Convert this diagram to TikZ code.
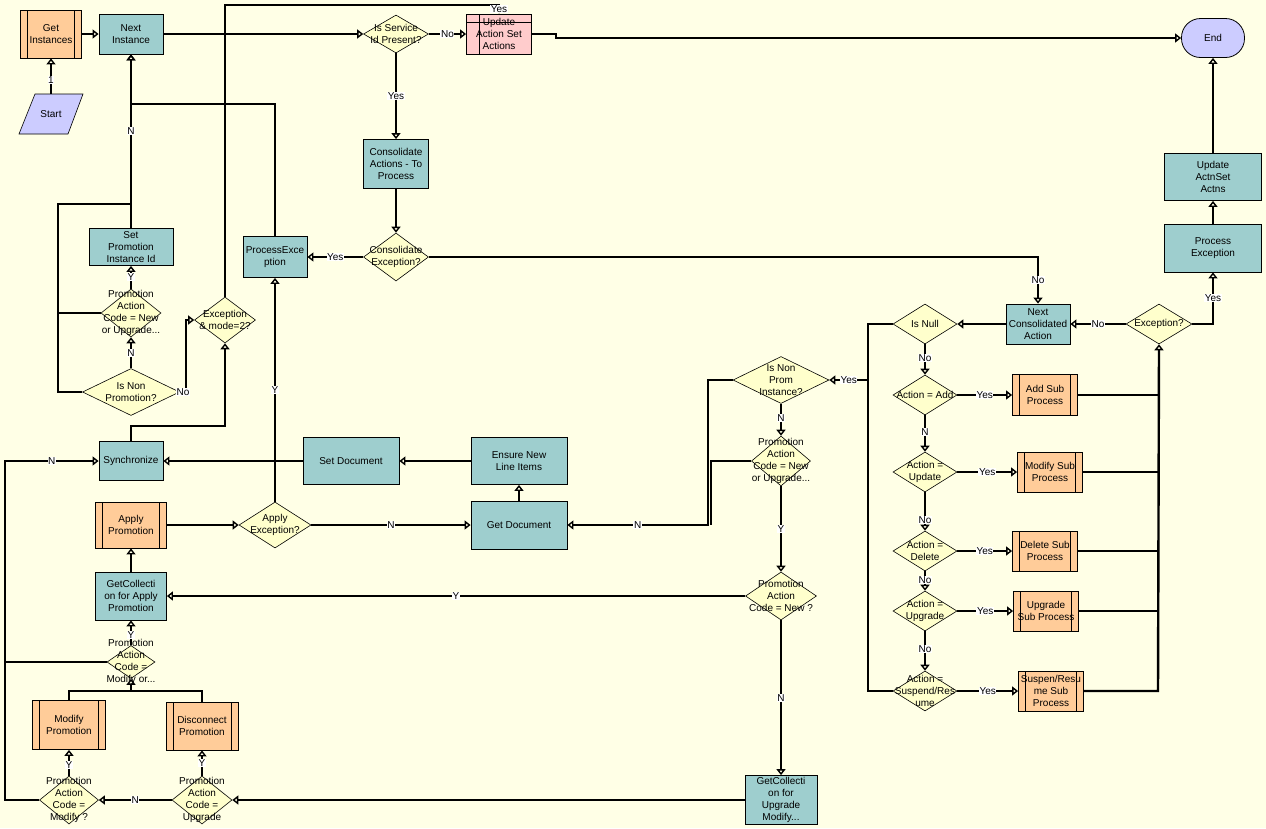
\documentclass[tikz,border=0pt]{standalone}
\usepackage{fontspec}
\setmainfont{Liberation Sans}
\usetikzlibrary{shapes.geometric,arrows.meta}
\definecolor{bgc}{HTML}{FFFFE6}
\definecolor{tealc}{HTML}{9ECECE}
\definecolor{orangec}{HTML}{FFCC99}
\definecolor{diac}{HTML}{FFFFCC}
\definecolor{pinkc}{HTML}{FFCCCC}
\definecolor{lavc}{HTML}{CCCCFF}
\begin{document}
\begin{tikzpicture}[x=1pt,y=-1pt,
  every node/.style={font=\fontsize{10}{12}\selectfont, align=center},
  sz/.style 2 args={minimum width=#1pt, minimum height=#2pt},
  proc/.style={draw, line width=0.8pt, fill=tealc, inner sep=0pt},
  sub/.style={draw, line width=0.8pt, fill=orangec, inner sep=0pt,
    path picture={\draw[line width=0.8pt]
      ([xshift=7pt]path picture bounding box.north west) -- ([xshift=7pt]path picture bounding box.south west)
      ([xshift=-7pt]path picture bounding box.north east) -- ([xshift=-7pt]path picture bounding box.south east);}},
  store/.style={draw, line width=0.8pt, fill=pinkc, inner sep=0pt,
    path picture={\draw[line width=0.8pt]
      ([xshift=13pt]path picture bounding box.north west) -- ([xshift=13pt]path picture bounding box.south west)
      ([yshift=-8pt]path picture bounding box.north west) -- ([yshift=-8pt]path picture bounding box.north east);}},
  dia/.style={diamond, draw, line width=0.6pt, fill=diac, inner sep=0pt},
  lt/.style={inner sep=0pt, align=center},
  lbl/.style={fill=white, inner sep=0.6pt},
  conn/.style={line width=2.4pt, -{Triangle[open,length=6pt,width=9pt,line width=1.4pt]}},
  ln/.style={line width=2.4pt}
]
\fill[bgc] (0,0) rectangle (1266,828);
\useasboundingbox (0,0) rectangle (1266,828);

% ---- start / end ----
\filldraw[fill=lavc, line width=0.6pt] (35,94) -- (83,94) -- (68,134) -- (19,134) -- cycle;
\node[inner sep=0pt, sz={49}{40}] (start) at (51,114) {Start};
\node[draw, line width=0.8pt, fill=lavc, rounded corners=19pt, sz={63}{39}] (end) at (1213,38) {End};

% ---- process boxes ----
\node[proc, sz={64}{40}] (nextinst) at (131,34) {Next\\Instance};
\node[proc, sz={84}{37}] (setpromo) at (131,247) {Set\\Promotion\\Instance Id};
\node[proc, sz={64}{41}] (procexc) at (275,257) {ProcessExce\\ption};
\node[proc, sz={65}{49}] (consol) at (396,164) {Consolidate\\Actions - To\\Process};
\node[proc, sz={64}{39}] (sync) at (131,461) {Synchronize};
\node[proc, sz={96}{47}] (setdoc) at (351,461) {Set Document};
\node[proc, sz={96}{47}] (ensure) at (519,461) {Ensure New\\Line Items};
\node[proc, sz={96}{48}] (getdoc) at (519,525) {Get Document};
\node[proc, sz={71}{48}] (getcolap) at (131,596) {GetCollecti\\on for Apply\\Promotion};
\node[proc, sz={72}{49}] (getcolup) at (781,800) {GetCollecti\\on for\\Upgrade\\Modify...};
\node[proc, sz={64}{40}] (nextcons) at (1038,324) {Next\\Consolidated\\Action};
\node[proc, sz={97}{48}] (procexc2) at (1213,248) {Process\\Exception};
\node[proc, sz={97}{47}] (updactn) at (1213,177) {Update\\ActnSet\\Actns};

% ---- sub processes ----
\node[sub, sz={61}{48}] (getinst) at (51,34) {Get\\Instances};
\node[sub, sz={71}{46}] (applypromo) at (131,525) {Apply\\Promotion};
\node[sub, sz={73}{49}] (modpromo) at (69,725) {Modify\\Promotion};
\node[sub, sz={72}{48}] (disc) at (202,726) {Disconnect\\Promotion};
\node[sub, sz={65}{41}] (addsub) at (1045,395) {Add Sub\\Process};
\node[sub, sz={65}{40}] (modsub) at (1050,472) {Modify Sub\\Process};
\node[sub, sz={65}{40}] (delsub) at (1045,551) {Delete Sub\\Process};
\node[sub, sz={65}{40}] (upgsub) at (1046,611) {Upgrade\\Sub Process};
\node[sub, sz={65}{40}] (suspsub) at (1051,691) {Suspen/Resu\\me Sub\\Process};

% ---- store ----
\node[store, sz={65}{40}] (updset) at (499,34) {Update\\Action Set\\Actions};

% ---- decisions ----
\node[dia, sz={65}{38}] (issvc) at (396,34) {};
\node[dia, sz={65}{48}] (consexc) at (396,257) {};
\node[dia, sz={60}{48}] (pacnu1) at (131,313) {};
\node[dia, sz={97}{47}] (isnonpromo) at (131,392) {};
\node[dia, sz={61}{46}] (excmode) at (225,320) {};
\node[dia, sz={72}{46}] (applyexc) at (275,525) {};
\node[dia, sz={48}{33}] (pacmodor) at (131,662) {};
\node[dia, sz={59}{48}] (pacmod) at (69,800) {};
\node[dia, sz={60}{48}] (pacupg) at (202,800) {};
\node[dia, sz={96}{47}] (isnonprom) at (781,380) {};
\node[dia, sz={59}{50}] (pacnu2) at (781,461) {};
\node[dia, sz={71}{48}] (pacnew) at (781,596) {};
\node[dia, sz={64}{40}] (isnull) at (925,324) {};
\node[dia, sz={64}{40}] (actadd) at (925,395) {};
\node[dia, sz={64}{40}] (actupd) at (925,472) {};
\node[dia, sz={64}{40}] (actdel) at (925,551) {};
\node[dia, sz={64}{40}] (actupg) at (925,611) {};
\node[dia, sz={64}{40}] (actsus) at (925,691) {};
\node[dia, sz={66}{40}] (exc) at (1159,324) {};

\coordinate (jm) at (131,691);

% ---- connectors ----
\draw[conn] (start.north) -- node[lbl,pos=0.4]{1} (getinst.south);
\draw[conn] (getinst.east) -- (nextinst.west);
\draw[conn] (nextinst.east) -- (issvc.west);
\draw[conn] (issvc.east) -- node[lbl]{No} (updset.west);
\draw[conn] (updset.east) -- (556,34) -- (556,38) -- (end.west);
\draw[conn] (issvc.south) -- node[lbl]{Yes} (consol.north);
\draw[conn] (consol.south) -- (consexc.north);
\draw[conn] (consexc.west) -- node[lbl]{Yes} (procexc.east);
\draw[conn] (consexc.east) -- (1038,257) -- node[lbl]{No} (nextcons.north);
\draw[conn] (procexc.north) -- (275,104) -- (131,104) -- (nextinst.south);
\draw[conn] (setpromo.north) -- node[lbl,pos=0.56]{N} (nextinst.south);
\draw[ln] (isnonpromo.west) -- (58,392) -- (58,204) -- (131,204);
\draw[ln] (pacnu1.west) -- (58,313);
\draw[conn] (pacnu1.north) -- node[lbl]{Y} (setpromo.south);
\draw[conn] (isnonpromo.north) -- node[lbl]{N} (pacnu1.south);
\draw[conn] (isnonpromo.east) -- (186,392) -- (186,320) -- (excmode.west);
\draw[conn] (excmode.north) -- (225,5) -- (499,5) -- (updset.north);
\draw[conn] (sync.north) -- (131,426) -- (225,426) -- (excmode.south);
\draw[conn] (setdoc.west) -- (sync.east);
\draw[conn] (ensure.west) -- (setdoc.east);
\draw[conn] (getdoc.north) -- (ensure.south);
\draw[conn] (applypromo.east) -- (applyexc.west);
\draw[conn] (applyexc.north) -- node[lbl]{Y} (procexc.south);
\draw[conn] (applyexc.east) -- node[lbl]{N} (getdoc.west);
\draw[conn] (getcolap.north) -- (applypromo.south);
\draw[conn] (pacmodor.north) -- node[lbl,pos=0.4]{Y} (getcolap.south);
\draw[ln] (pacmodor.west) -- (5,662);
\draw[conn] (pacmod.west) -- (5,800) -- (5,461) -- node[lbl]{N} (sync.west);
\draw[ln] (modpromo.north) -- (69,691) -- (202,691) -- (disc.north);
\draw[conn] (jm) -- (pacmodor.south);
\draw[conn] (pacmod.north) -- node[lbl,pos=0.4]{Y} (modpromo.south);
\draw[conn] (pacupg.north) -- node[lbl,pos=0.5]{Y} (disc.south);
\draw[conn] (pacupg.west) -- node[lbl]{N} (pacmod.east);
\draw[conn] (getcolup.west) -- (pacupg.east);
\draw[conn] (pacnew.south) -- node[lbl]{N} (getcolup.north);
\draw[conn] (pacnew.west) -- node[lbl]{Y} (getcolap.east);
\draw[conn] (pacnu2.south) -- node[lbl]{Y} (pacnew.north);
\draw[conn] (isnonprom.south) -- node[lbl,pos=0.45]{N} (pacnu2.north);
\draw[conn] (isnonprom.west) -- (708,380) -- (708,525) -- node[lbl]{N} (getdoc.east);
\draw[ln] (pacnu2.west) -- (711,461) -- (711,525);
\draw[conn] (isnull.west) -- (868,324) -- (868,380) -- node[lbl]{Yes} (isnonprom.east);
\draw[ln] (actsus.west) -- (868,691) -- (868,380);
\draw[conn] (nextcons.west) -- (isnull.east);
\draw[conn] (exc.west) -- node[lbl]{No} (nextcons.east);
\draw[conn] (exc.east) -- (1213,324) -- node[lbl]{Yes} (procexc2.south);
\draw[conn] (procexc2.north) -- (updactn.south);
\draw[conn] (updactn.north) -- (end.south);
\draw[conn] (isnull.south) -- node[lbl,pos=0.45]{No} (actadd.north);
\draw[conn] (actadd.south) -- node[lbl,pos=0.45]{N} (actupd.north);
\draw[conn] (actupd.south) -- node[lbl,pos=0.72]{No} (actdel.north);
\draw[conn] (actdel.south) -- node[lbl,pos=0.45]{No} (actupg.north);
\draw[conn] (actupg.south) -- node[lbl,pos=0.45]{No} (actsus.north);
\draw[conn] (actadd.east) -- node[lbl]{Yes} (addsub.west);
\draw[conn] (actupd.east) -- node[lbl]{Yes} (modsub.west);
\draw[conn] (actdel.east) -- node[lbl]{Yes} (delsub.west);
\draw[conn] (actupg.east) -- node[lbl]{Yes} (upgsub.west);
\draw[conn] (actsus.east) -- node[lbl]{Yes} (suspsub.west);
\draw[ln] (addsub.east) -- (1158,395);
\draw[ln] (modsub.east) -- (1158,472);
\draw[ln] (delsub.east) -- (1158,551);
\draw[ln] (upgsub.east) -- (1158,611);
\draw[conn] (suspsub.east) -- (1158,691) -- (exc.south);

% labels sitting at ends
\node[lbl] (lno1) at (183,392) {No};
\node[lbl] (lyes1) at (499,9) {Yes};

% ---- decision texts ----
\node[lt] at (issvc) {Is Service\\Id Present?};
\node[lt] at (consexc) {Consolidate\\Exception?};
\node[lt] at (pacnu1) {Promotion\\Action\\Code = New\\or Upgrade...};
\node[lt] at (isnonpromo) {Is Non\\Promotion?};
\node[lt] at (excmode) {Exception\\\& mode=2?};
\node[lt] at (applyexc) {Apply\\Exception?};
\node[lt] at (pacmodor) {Promotion\\Action\\Code =\\Modify or...};
\node[lt] at (pacmod) {Promotion\\Action\\Code =\\Modify ?};
\node[lt] at (pacupg) {Promotion\\Action\\Code =\\Upgrade};
\node[lt] at (isnonprom) {Is Non\\Prom\\Instance?};
\node[lt] at (pacnu2) {Promotion\\Action\\Code = New\\or Upgrade...};
\node[lt] at (pacnew) {Promotion\\Action\\Code = New ?};
\node[lt] at (isnull) {Is Null};
\node[lt] at (actadd) {Action = Add};
\node[lt] at (actupd) {Action =\\Update};
\node[lt] at (actdel) {Action =\\Delete};
\node[lt] at (actupg) {Action =\\Upgrade};
\node[lt] at (actsus) {Action =\\Suspend/Res\\ume};
\node[lt] at (exc) {Exception?};
\end{tikzpicture}
\end{document}
